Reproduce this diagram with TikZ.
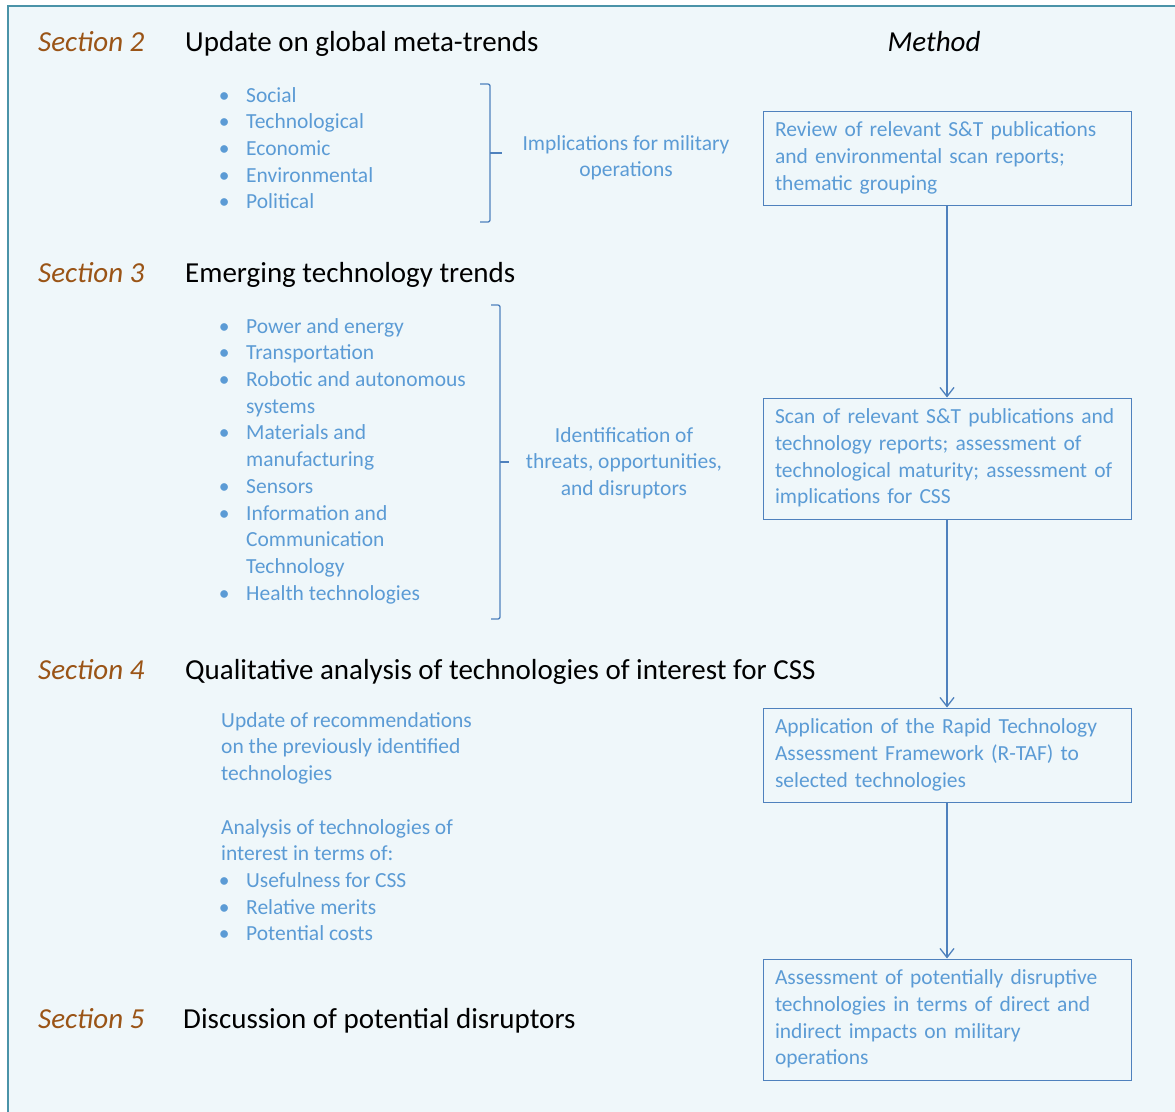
\documentclass[tikz,border=0pt]{standalone}
\usepackage{fontspec}
\setmainfont{Carlito}
\usetikzlibrary{arrows.meta}

\definecolor{framec}{HTML}{4A93A8}
\definecolor{paper}{HTML}{EFF7FA}
\definecolor{sectc}{HTML}{9A5416}
\definecolor{itemc}{HTML}{5B9BD5}
\definecolor{linec}{HTML}{4F81BD}

\newcommand\bul{\makebox[6pt]{•}\hspace{19pt}}
\newcommand\bodysize{\fontsize{21.5}{26.7}\selectfont}
\newcommand\headsize{\fontsize{29}{34}\selectfont}

\tikzset{
  sectlabel/.style={anchor=base west,inner sep=0,text=sectc,font=\headsize\itshape},
  headline/.style={anchor=base west,inner sep=0,text=black,font=\headsize},
  itemlist/.style={anchor=north west,inner sep=0,text=itemc,font=\bodysize,align=left},
  sidenote/.style={anchor=north,inner sep=0,text=itemc,font=\bodysize,align=center},
  methodbox/.style={draw=linec,line width=1pt,text=itemc,font=\bodysize,align=left,
    text width=344pt,inner xsep=12pt,inner ysep=0pt,minimum width=368pt},
  bracket/.style={draw=linec,line width=1.3pt,rounded corners=2pt},
  flow/.style={draw=linec,line width=1.3pt,-{Straight Barb[length=9pt,width=14pt]}}
}

\begin{document}
\begin{tikzpicture}[x=1pt,y=-1pt]
  \useasboundingbox (0,0) rectangle (1175,1111);
  \fill[white] (0,0) rectangle (1175,1111);
  \draw[draw=framec,line width=2pt,fill=paper] (8,6) rectangle (1190,1130);

  % section headings
  \node[sectlabel] (s2) at (38,51) {Section 2};
  \node[headline] (h2) at (185,51) {Update on global meta-trends};
  \node[sectlabel] (s3) at (38,282) {Section 3};
  \node[headline] (h3) at (185,282) {Emerging technology trends};
  \node[sectlabel] (s4) at (38,679) {Section 4};
  \node[headline] (h4) at (185,679) {Qualitative analysis of technologies of interest for CSS};
  \node[sectlabel] (s5) at (38,1028) {Section 5};
  \node[headline] (h5) at (183,1028) {Discussion of potential disruptors};
  \node[headline,anchor=base,font=\headsize\itshape] (method) at (934,51) {Method};

  % lists
  \node[itemlist] (l2) at (221,83.3) {\strut\bul Social\\ \bul Technological\\ \bul Economic\\
    \bul Environmental\\ \bul Political};
  \node[itemlist] (l3) at (221,314.3) {\strut\bul Power and energy\\ \bul Transportation\\
    \bul Robotic and autonomous\\ \hspace{25pt}systems\\ \bul Materials and\\
    \hspace{25pt}manufacturing\\ \bul Sensors\\ \bul Information and\\
    \hspace{25pt}Communication\\ \hspace{25pt}Technology\\ \bul Health technologies};
  \node[itemlist] (l4) at (221,708.3) {\strut Update of recommendations\\ on the previously identified\\
    technologies\\[26.7pt] Analysis of technologies of\\ interest in terms of:\\
    \bul Usefulness for CSS\\ \bul Relative merits\\ \bul Potential costs};

  % brackets
  \draw[bracket] (480,84) -- (490,84) -- (490,222) -- (480,222);
  \draw[bracket] (490,153) -- (502,153);
  \node[sidenote] (n2) at (626,131.3) {\strut Implications for military\\ operations};
  \draw[bracket] (491,305) -- (500,305) -- (500,619) -- (491,619);
  \draw[bracket] (500,462) -- (509,462);
  \node[sidenote] (n3) at (624,423.3) {\strut Identification of\\ threats, opportunities,\\ and disruptors};

  % method boxes
  \node[methodbox,minimum height=94pt] (m1) at (947,158)
    {\strut Review of relevant S\&T publications\\ and environmental scan reports;\\ thematic grouping\strut};
  \node[methodbox,minimum height=121pt] (m2) at (947,458.5)
    {\strut Scan of relevant S\&T publications and\\ technology reports; assessment of\\
     technological maturity; assessment of\\ implications for CSS\strut};
  \node[methodbox,minimum height=94pt] (m3) at (947,755)
    {\strut Application of the Rapid Technology\\ Assessment Framework (R-TAF) to\\ selected technologies\strut};
  \node[methodbox,minimum height=121pt] (m4) at (947,1019.5)
    {\strut Assessment of potentially disruptive\\ technologies in terms of direct and\\
     indirect impacts on military\\ operations\strut};

  \path[flow]
    (m1) edge (m2)
    (m2) edge (m3)
    (m3) edge (m4);
\end{tikzpicture}
\end{document}
